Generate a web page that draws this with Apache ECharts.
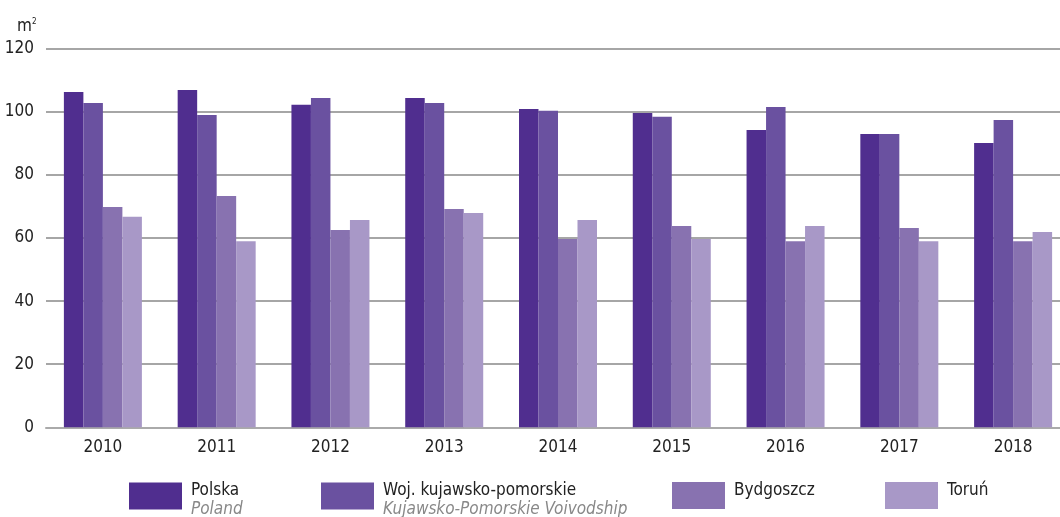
<!DOCTYPE html>
<html>
<head>
<meta charset="utf-8">
<script src="https://cdn.jsdelivr.net/npm/echarts@6/dist/echarts.min.js"></script>
<style>
html,body{margin:0;padding:0;background:#fff;}
#c{width:1060px;height:517px;}
</style>
</head>
<body>
<div id="c"></div>
<script>
const categories = ['2010','2011','2012','2013','2014','2015','2016','2017','2018'];
const polska   = [106.3, 106.9, 102.2, 104.4, 100.9, 99.6, 94.2, 93.0, 90.1];
const woj      = [102.8, 99.0, 104.4, 102.8, 100.3, 98.4, 101.5, 93.0, 97.4];
const bydgoszcz= [69.8, 73.3, 62.5, 69.2, 59.7, 63.8, 59.0, 63.2, 59.0];
const torun    = [66.7, 59.0, 65.7, 67.9, 65.7, 59.7, 63.8, 59.0, 61.9];
const seriesNames = ['Polska','Woj. kujawsko-pomorskie','Bydgoszcz','Toruń'];
const seriesSub = ['Poland','Kujawsko-Pomorskie Voivodship','',''];
const colors = ['#502E8F','#6A51A0','#8872B0','#A898C7'];
const yTicks = {min:0, max:120, interval:20};

const FONT = '"Liberation Sans Narrow","DejaVu Sans Condensed","Roboto Condensed",sans-serif';
const chart = echarts.init(document.getElementById('c'), null, {renderer:'canvas'});

const legendLefts = [129, 321, 672, 885];
const legends = seriesNames.map((n,i)=>{
  const two = !!seriesSub[i];
  return {
    show:true,
    data:[n],
    left:legendLefts[i],
    top: 482,
    itemWidth:53,
    itemHeight:27,
    padding:0,
    itemGap:0,
    icon:'rect',
    selectedMode:false,
    formatter:function(name){
      const idx = seriesNames.indexOf(name);
      return seriesSub[idx] ? '{a|'+name+'}\n{b|'+seriesSub[idx]+'}' : '{a|'+name+'}';
    },
    textStyle:{
      padding: two ? [8,0,0,4] : [0,0,10,4],
      rich:{
        a:{fontFamily:FONT,fontSize:17,color:'#222',lineHeight:19},
        b:{fontFamily:FONT,fontSize:17,color:'#888',fontStyle:'italic',lineHeight:19}
      }
    }
  };
});

const series = [polska,woj,bydgoszcz,torun].map((d,i)=>({
  name:seriesNames[i],
  type:'bar',
  data:d,
  barWidth:19.5,
  barGap:'0%',
  itemStyle:{color:colors[i],borderWidth:0},
  emphasis:{disabled:true},
  animation:false
}));

chart.setOption({
  animation:false,
  color:colors,
  title:{
    text:'m{s|2}',
    left:12,
    top:13,
    textStyle:{
      fontFamily:FONT,fontSize:17,fontWeight:'normal',color:'#222',
      rich:{s:{fontFamily:FONT,fontSize:8,color:'#222',verticalAlign:'top',padding:[0,0,10,0]}}
    }
  },
  legend:legends,
  grid:{left:46,width:1024,top:48.7,bottom:89.7,containLabel:false,outerBoundsMode:'none'},
  xAxis:{
    type:'category',
    data:categories,
    axisTick:{show:false},
    axisLine:{show:true,lineStyle:{color:'#aaaaaa',width:2}},
    axisLabel:{fontFamily:FONT,fontSize:17,color:'#222',margin:12}
  },
  yAxis:{
    type:'value',
    min:yTicks.min,max:yTicks.max,interval:yTicks.interval,
    axisLine:{show:false},
    axisTick:{show:false},
    axisLabel:{fontFamily:FONT,fontSize:17,color:'#222',margin:12},
    splitLine:{lineStyle:{color:'#888888',width:1.5}}
  },
  series:series
});
</script>
</body>
</html>
